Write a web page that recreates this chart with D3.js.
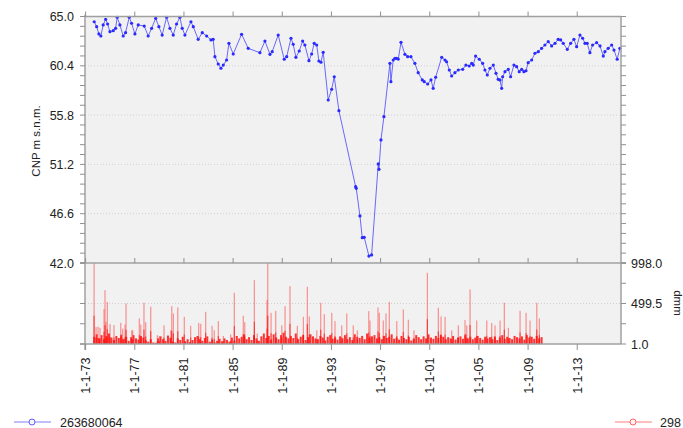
<!DOCTYPE html>
<html>
<head>
<meta charset="utf-8">
<script src="https://cdn.jsdelivr.net/npm/d3@7"></script>
<style>
body { margin: 0; background: #fff; }
text { font-family: "Liberation Sans", Arial, sans-serif; }
</style>
</head>
<body>
<svg id="chart" width="683" height="428"></svg>
<script>
// groundwater level (decimal year, m s.n.m.)
var levelYears = [1973.70,1973.90,1974.08,1974.24,1974.43,1974.63,1974.79,1974.98,1975.25,1975.44,
  1975.57,1975.79,1976.06,1976.25,1976.55,1976.74,1977.01,1977.28,1977.77,1978.09,
  1978.37,1978.70,1978.96,1979.23,1979.59,1979.86,1980.13,1980.40,1980.67,1980.86,
  1981.08,1981.57,1981.76,1982.16,1982.49,1982.85,1983.20,1983.38,1983.52,1983.79,
  1984.01,1984.20,1984.47,1984.66,1985.01,1985.69,1986.23,1987.18,1987.59,1988.00,
  1988.18,1988.67,1989.16,1989.36,1989.71,1989.89,1990.11,1990.38,1990.66,1990.84,
  1991.17,1991.39,1991.60,1991.80,1991.98,1992.15,1992.33,1992.74,1993.02,1993.23,
  1993.61,1994.97,1995.02,1995.32,1995.51,1995.67,1996.05,1996.27,1996.81,1996.87,
  1997.03,1997.27,1997.76,1997.84,1998.03,1998.17,1998.30,1998.44,1998.66,1998.98,
  1999.20,1999.47,1999.79,2000.06,2000.39,2000.55,2000.83,2001.10,2001.28,2001.48,
  2001.97,2002.24,2002.37,2002.59,2002.78,2003.05,2003.32,2003.68,2003.94,2004.21,
  2004.41,2004.54,2004.73,2005.03,2005.30,2005.49,2005.68,2005.90,2006.17,2006.39,
  2006.57,2006.71,2006.85,2006.93,2007.12,2007.39,2007.58,2007.85,2008.07,2008.28,
  2008.48,2008.66,2008.83,2009.01,2009.29,2009.56,2009.83,2010.10,2010.37,2010.64,
  2010.92,2011.19,2011.45,2011.65,2011.86,2012.19,2012.46,2012.73,2012.95,2013.22,
  2013.44,2013.63,2013.81,2014.03,2014.25,2014.58,2014.85,2015.12,2015.25,2015.52,
  2015.80,2015.99,2016.25,2016.47];
var levelValues = [64.51,64.05,63.37,63.18,64.21,64.74,64.30,63.58,63.68,63.90,
  64.93,64.21,63.18,63.49,64.93,64.37,63.37,64.21,64.11,63.18,
  63.90,64.83,64.05,63.27,64.93,63.90,63.27,64.30,64.93,63.90,
  63.27,64.51,64.05,62.87,63.49,63.18,62.81,62.87,61.25,60.57,
  60.17,60.47,60.94,62.50,61.50,63.34,62.03,61.62,62.71,61.47,
  61.72,63.27,61.01,61.25,62.97,62.41,61.19,61.78,62.71,62.34,
  60.88,61.50,62.50,62.34,60.85,60.73,61.66,57.21,58.21,59.38,
  56.21,49.12,48.97,46.39,44.36,44.40,42.65,42.75,51.24,50.74,
  53.48,55.65,60.63,58.92,60.94,61.10,61.10,61.03,62.59,61.47,
  61.25,61.25,60.63,59.76,59.08,58.92,58.70,59.08,58.30,59.33,
  61.19,60.94,60.78,60.01,59.45,59.76,60.01,60.07,60.47,60.38,
  60.63,60.47,61.31,61.01,60.63,60.01,59.54,60.17,60.47,59.70,
  59.14,59.08,58.30,59.38,59.85,60.07,59.38,60.47,60.32,59.85,
  60.07,59.85,59.94,60.69,60.94,61.57,61.72,62.03,62.34,62.65,
  62.25,62.50,62.87,62.81,62.50,61.94,62.50,62.87,62.18,63.27,
  62.97,62.50,62.50,61.62,62.34,62.56,62.25,61.31,61.72,62.03,
  62.34,61.87,61.01,62.03];

// rainfall peaks (decimal year, mm)
var rainYears = [1973.68,1973.84,1974.00,1974.16,1974.49,1974.57,1974.65,1974.76,1974.98,1975.30,
  1975.85,1976.01,1976.20,1976.28,1976.74,1976.82,1977.36,1977.48,1977.74,1977.88,
  1978.29,1978.83,1978.99,1979.37,1979.92,1980.00,1980.13,1980.49,1981.02,1981.54,
  1982.19,1982.36,1982.76,1983.28,1983.46,1983.79,1984.20,1984.80,1985.09,1985.82,
  1985.94,1986.72,1986.96,1987.75,1987.81,1988.08,1988.46,1988.95,1989.22,1989.62,
  1990.22,1990.71,1991.03,1991.19,1991.80,1992.12,1992.41,1993.02,1993.28,1993.83,
  1994.24,1994.77,1995.10,1996.03,1996.13,1996.78,1996.89,1997.21,1997.43,1997.70,
  1998.31,1998.84,1999.25,1999.71,2000.80,2001.69,2001.91,2002.24,2002.78,2003.32,
  2003.86,2004.00,2004.27,2004.81,2005.63,2006.03,2006.30,2006.71,2007.06,2007.39,
  2008.34,2008.83,2009.15,2009.70,2009.91];
var rainValues = [998,210,215,200,430,664,274,520,245,234,
  262,190,240,500,170,170,316,240,508,270,
  459,110,100,230,170,467,377,451,336,225,
  260,250,397,225,170,283,100,120,631,348,
  270,787,130,541,998,385,410,230,467,713,
  225,336,705,340,170,508,369,385,283,230,
  377,230,170,406,290,451,385,290,377,520,
  283,426,300,170,877,447,340,336,170,230,
  295,230,673,290,290,260,230,290,508,200,
  410,385,290,508,316];

// everyday rainfall band, one value every 0.2 year from 1973.7
var baseStart = 1973.7, baseStep = 0.2;
var baseValues = [90,120,70,110,60,95,130,80,50,100,75,115,60,90,40,85,110,70,55,100,
  80,45,30,60,20,15,70,95,60,40,105,80,30,20,70,50,90,35,60,25,
  50,85,100,60,40,75,95,30,55,20,40,65,35,70,50,30,80,45,100,70,
  90,120,60,85,50,110,70,40,95,130,75,100,55,120,80,60,110,140,90,70,
  100,75,130,60,90,110,50,85,120,95,70,60,100,80,45,90,110,65,80,55,
  95,70,110,60,85,50,120,90,75,100,60,130,80,95,110,70,85,60,100,75,
  90,120,65,80,55,100,75,60,90,45,70,110,85,60,95,70,120,80,65,100,
  75,110,90,60,85,70,100,55,80,95,65,120,70,90,60,80,100,75,55,90,
  70,85,60,95,50,80,110,65,90,75,60,100,85,70,95,55,110,80,90,65,
  100,70,85];

var levelTicks = [65.0, 60.4, 55.8, 51.2, 46.6, 42.0];
var rainTicks = [998.0, 499.5, 1.0];
var yearTicks = [1973,1977,1981,1985,1989,1993,1997,2001,2005,2009,2013];

var svg = d3.select('#chart');
svg.append('rect').attr('width', 683).attr('height', 428).attr('fill', '#fff');

var left = 85, right = 621, top1 = 16.5, mid = 263, bot = 344;

var x = d3.scaleLinear().domain([1972.95, 2016.56]).range([left, right]);
var yLevel = d3.scaleLinear().domain([42, 65]).range([mid, top1]);
var yRain = d3.scaleLinear().domain([1, 998]).range([bot, mid]);

// plot backgrounds
svg.append('rect').attr('x', left).attr('y', top1).attr('width', right - left).attr('height', mid - top1).attr('fill', '#f1f1f1');
svg.append('rect').attr('x', left).attr('y', mid).attr('width', right - left).attr('height', bot - mid).attr('fill', '#f1f1f1');

// dotted grid
svg.selectAll('.gl').data(levelTicks.slice(1, 5)).enter().append('line')
  .attr('x1', left).attr('x2', right)
  .attr('y1', d => yLevel(d)).attr('y2', d => yLevel(d))
  .attr('stroke', '#d0d0d0').attr('stroke-dasharray', '1,2');
svg.append('line').attr('x1', left).attr('x2', right)
  .attr('y1', yRain(499.5)).attr('y2', yRain(499.5))
  .attr('stroke', '#d0d0d0').attr('stroke-dasharray', '1,2');

// rainfall band
var baseData = baseValues.map((v, i) => ({ t: baseStart + i * baseStep, v: v }));
svg.selectAll('.base').data(baseData).enter().append('rect')
  .attr('x', d => x(d.t) - 1).attr('width', 2)
  .attr('y', d => yRain(d.v)).attr('height', d => bot - yRain(d.v))
  .attr('fill', '#ff1010').attr('opacity', 0.85);

var rainData = rainYears.map((t, i) => ({ t: t, v: rainValues[i] }));
svg.selectAll('.spike').data(rainData).enter().append('rect')
  .attr('x', d => x(d.t) - 0.5).attr('width', 1.2)
  .attr('y', d => yRain(d.v)).attr('height', d => bot - yRain(d.v))
  .attr('fill', '#ff3030').attr('opacity', 0.5);
svg.selectAll('.spikefoot').data(rainData).enter().append('rect')
  .attr('x', d => x(d.t) - 0.5).attr('width', 1.2)
  .attr('y', d => yRain(d.v * 0.35)).attr('height', d => bot - yRain(d.v * 0.35))
  .attr('fill', '#ff0000').attr('opacity', 0.6);

// groundwater line
var levelData = levelYears.map((t, i) => ({ t: t, v: levelValues[i] }));
var line = d3.line().x(d => x(d.t)).y(d => yLevel(d.v));
svg.append('path').datum(levelData).attr('d', line)
  .attr('fill', 'none').attr('stroke', '#5050ff').attr('stroke-width', 1).attr('opacity', 0.85);
svg.selectAll('.pt').data(levelData).enter().append('circle')
  .attr('cx', d => x(d.t)).attr('cy', d => yLevel(d.v)).attr('r', 1.6)
  .attr('fill', '#2a2aff');

// frame lines
var frame = svg.append('g').attr('stroke', '#a0a0a0').attr('stroke-width', 1.5);
frame.append('line').attr('x1', left).attr('x2', right).attr('y1', top1).attr('y2', top1);
frame.append('line').attr('x1', left - 5).attr('x2', right + 5).attr('y1', mid).attr('y2', mid);
frame.append('line').attr('x1', left - 5).attr('x2', right).attr('y1', bot).attr('y2', bot);
frame.append('line').attr('x1', left).attr('x2', left).attr('y1', top1 - 2).attr('y2', bot + 6);
frame.append('line').attr('x1', right).attr('x2', right).attr('y1', top1).attr('y2', bot);

// y ticks, levels
var step = (65 - 42) / 25;
var minorLevel = d3.range(26).map(i => 42 + i * step);
var tk = svg.append('g').attr('stroke', '#909090').attr('stroke-width', 1);
minorLevel.forEach(function (v) {
  tk.append('line').attr('x1', left - 5).attr('x2', left).attr('y1', yLevel(v)).attr('y2', yLevel(v));
  tk.append('line').attr('x1', right).attr('x2', right + 5).attr('y1', yLevel(v)).attr('y2', yLevel(v));
});
[1, 250.25, 499.5, 748.75, 998].forEach(function (v) {
  tk.append('line').attr('x1', left - 5).attr('x2', left).attr('y1', yRain(v)).attr('y2', yRain(v));
  tk.append('line').attr('x1', right).attr('x2', right + 5).attr('y1', yRain(v)).attr('y2', yRain(v));
});
yearTicks.forEach(function (t) {
  tk.append('line').attr('x1', x(t)).attr('x2', x(t)).attr('y1', top1 - 5).attr('y2', top1);
  tk.append('line').attr('x1', x(t)).attr('x2', x(t)).attr('y1', mid - 5).attr('y2', mid);
  tk.append('line').attr('x1', x(t)).attr('x2', x(t)).attr('y1', bot).attr('y2', bot + 6);
});

// tick labels
svg.selectAll('.yl').data(levelTicks).enter().append('text')
  .attr('x', 74).attr('y', d => yLevel(d) + 4.5)
  .attr('text-anchor', 'end').attr('font-size', 12.5).attr('fill', '#222')
  .text(d => d.toFixed(1));
svg.selectAll('.rl').data(rainTicks).enter().append('text')
  .attr('x', 631).attr('y', d => yRain(d) + 4.5)
  .attr('text-anchor', 'start').attr('font-size', 12.5).attr('fill', '#222')
  .text(d => d.toFixed(1));
svg.selectAll('.xl').data(yearTicks).enter().append('text')
  .attr('transform', d => 'translate(' + (x(d) + 4.5) + ',' + 357.5 + ') rotate(-90)')
  .attr('text-anchor', 'end').attr('font-size', 12.5).attr('fill', '#1a1a1a')
  .text(d => '1-1-' + String(d).slice(2));

// axis titles
svg.append('text').attr('transform', 'translate(40,141) rotate(-90)')
  .attr('text-anchor', 'middle').attr('font-size', 11.5).attr('fill', '#222')
  .text('CNP m s.n.m.');
svg.append('text').attr('transform', 'translate(674,303) rotate(90)')
  .attr('text-anchor', 'middle').attr('font-size', 11.5).attr('fill', '#222')
  .text('dmm');

// legend
var lg = svg.append('g');
lg.append('line').attr('x1', 14).attr('x2', 51).attr('y1', 422).attr('y2', 422).attr('stroke', '#8080ff').attr('stroke-width', 1.2);
lg.append('circle').attr('cx', 32).attr('cy', 422).attr('r', 3).attr('fill', '#f4f4ff').attr('stroke', '#6060ff');
lg.append('text').attr('x', 60).attr('y', 426.5).attr('font-size', 12.5).attr('fill', '#222').text('263680064');
lg.append('line').attr('x1', 615).attr('x2', 652).attr('y1', 422).attr('y2', 422).attr('stroke', '#ff8080').attr('stroke-width', 1.2);
lg.append('circle').attr('cx', 633).attr('cy', 422).attr('r', 3).attr('fill', '#fff4f4').attr('stroke', '#ff6060');
lg.append('text').attr('x', 660).attr('y', 426.5).attr('font-size', 12.5).attr('fill', '#222').text('298');
</script>
</body>
</html>
